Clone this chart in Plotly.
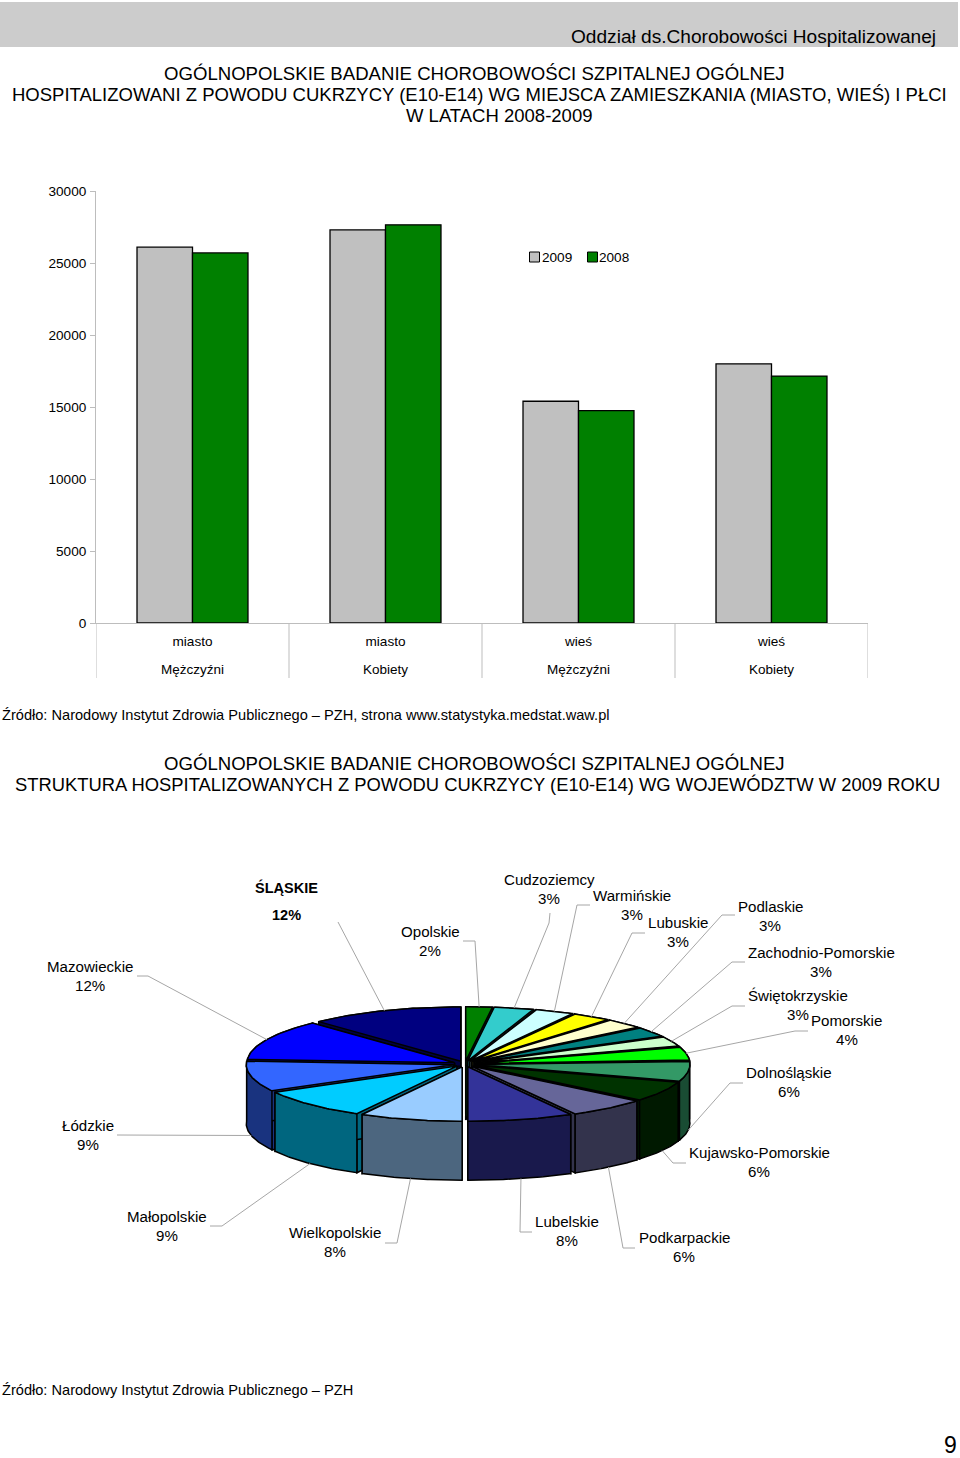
import numpy as np
import plotly.graph_objects as go

# ---------- data ----------
places = ["miasto", "miasto", "wieś", "wieś"]
sexes = ["Mężczyźni", "Kobiety", "Mężczyźni", "Kobiety"]
values_2009 = [26100, 27300, 15400, 18000]
values_2008 = [25700, 27650, 14750, 17150]
y_ticks = [0, 5000, 10000, 15000, 20000, 25000, 30000]

regions = ["Opolskie", "Cudzoziemcy", "Warmińskie", "Lubuskie", "Podlaskie",
           "Zachodnio-Pomorskie", "Świętokrzyskie", "Pomorskie", "Dolnośląskie",
           "Kujawsko-Pomorskie", "Podkarpackie", "Lubelskie", "Wielkopolskie",
           "Małopolskie", "Łódzkie", "Mazowieckie", "ŚLĄSKIE"]
shares = [2, 3, 3, 3, 3, 3, 3, 4, 6, 6, 6, 8, 8, 9, 9, 12, 12]
colors = ["#008000", "#33CCCC", "#CCFFFF", "#FFFF00", "#FFFFCC", "#008080", "#CCFFCC",
          "#00FF00", "#339966", "#003300", "#666699", "#333399", "#99CCFF", "#00CCFF",
          "#3366FF", "#0000FF", "#000080"]

# ---------- label placement (page pixels): x, y of name, y of percentage ----------
label_pos = [(430, 932, 951), (549, 880, 899), (632, 896, 915), (677.5, 923, 942),
             (770, 907, 926), (821, 953, 972), (797.5, 996, 1015), (846.5, 1021, 1040),
             (788.5, 1073, 1092), (759, 1153, 1172), (684, 1238, 1257), (567, 1222, 1241),
             (335, 1233, 1252), (167, 1217, 1236), (87.5, 1126, 1145), (90, 967, 986),
             (286, 888, 916)]
# label-side part of each leader line
leader_start = [[(463, 941), (475, 941)], [(550, 913), (549, 923)], [(590, 905), (577, 905)],
                [(645, 933), (632, 933)], [(735, 915), (722, 915)], [(745, 962), (732, 962)],
                [(745, 1006), (732, 1006)], [(808, 1031), (795, 1031)], [(743, 1083), (730, 1083)],
                [(686, 1163), (673, 1163)], [(635, 1248), (623, 1248)], [(532, 1232), (520, 1232)],
                [(385, 1243), (397, 1243)], [(210, 1226), (222, 1226)], [(117, 1135)],
                [(137, 976), (148, 976)], [(338, 922)]]

FONT = "Liberation Sans, Arial, sans-serif"
W, H = 960, 1458
CX, CY = 465.0, 1064.0
A_R, A_L, B = 213.5, 207.5, 54.3
EX, EY = 11.5, 3.0
DEPTH = 59.0
GRAY = "#BDBDBD"


def darker(hex_color):
    r, g, b = (int(hex_color[i:i + 2], 16) // 2 for i in (1, 3, 5))
    return f"#{r:02X}{g:02X}{b:02X}"


def rim(t, mid):
    dx, dy = EX * np.sin(mid), -EY * np.cos(mid)
    a = np.where(np.sin(t) >= 0, A_R, A_L)
    return CX + dx + a * np.sin(t), CY + dy - B * np.cos(t)


def poly(xs, ys, fill, lw=1.5):
    return go.Scatter(x=list(xs) + [xs[0]], y=list(ys) + [ys[0]], xaxis="x2", yaxis="y2",
                      mode="lines", fill="toself", fillcolor=fill,
                      line=dict(color="#000000", width=lw), hoverinfo="skip", showlegend=False)


fig = go.Figure()
bar_line = dict(color="#000000", width=1.3)
xs_idx = list(range(len(places)))
fig.add_trace(go.Bar(x=xs_idx, y=values_2009, name="2009", marker=dict(color="#C0C0C0", line=bar_line), showlegend=False))
fig.add_trace(go.Bar(x=xs_idx, y=values_2008, name="2008", marker=dict(color="#008000", line=bar_line), showlegend=False))

# ---------- exploded 3D pie ----------
edges = np.cumsum([0] + shares) / sum(shares) * 2 * np.pi
mids = (edges[:-1] + edges[1:]) / 2
order = sorted(range(len(shares)), key=lambda i: np.cos(mids[i]), reverse=True)

for i in order:
    t = np.linspace(edges[i], edges[i + 1], 40)
    m = mids[i]
    rx, ry = rim(t, m)
    tx, ty = CX + EX * np.sin(m), CY - EY * np.cos(m)
    side = darker(colors[i])
    # radial faces
    for k in (0, -1):
        fig.add_trace(poly([tx, rx[k], rx[k], tx], [ty, ry[k], ry[k] + DEPTH, ty + DEPTH], side))
    # outer wall
    fig.add_trace(poly(np.r_[rx, rx[::-1]], np.r_[ry, ry[::-1] + DEPTH], side))
    # top face
    fig.add_trace(poly(np.r_[tx, rx], np.r_[ty, ry], colors[i]))

# ---------- leader lines ----------
for i, start in enumerate(leader_start):
    m = mids[i]
    ex, ey = rim(np.array([m]), m)
    ex, ey = float(ex[0]), float(ey[0])
    if np.cos(m) < 0.0:
        ey += DEPTH
    fig.add_trace(go.Scatter(x=[p[0] for p in start] + [ex], y=[p[1] for p in start] + [ey],
                             xaxis="x2", yaxis="y2", mode="lines",
                             line=dict(color="#A6A6A6", width=1), hoverinfo="skip", showlegend=False))

ann = []


def text(x, y, s, size, xref="x2", bold=False, anchor="center", **kw):
    ann.append(dict(x=x, y=y, xref=xref, yref="y2", text=f"<b>{s}</b>" if bold else s, showarrow=False,
                    xanchor=anchor, yanchor="middle", align="center",
                    font=dict(family=FONT, size=size, color="#000000"), **kw))


for i, (name, share) in enumerate(zip(regions, shares)):
    lx, y1, y2 = label_pos[i]
    b = name.isupper()
    text(lx, y1 - 1, name, 14.5 if b else 15.1, bold=b)
    text(lx, y2 - 1, f"{share}%", 14.5 if b else 15.1, bold=b)

for i, s in enumerate(sexes):
    text(i, 669, s, 13.5, xref="x")

# titles and notes
text(474.5, 73, "OGÓLNOPOLSKIE BADANIE CHOROBOWOŚCI SZPITALNEJ OGÓLNEJ", 18.6)
text(479, 94, "HOSPITALIZOWANI Z POWODU CUKRZYCY (E10-E14) WG MIEJSCA ZAMIESZKANIA (MIASTO, WIEŚ) I PŁCI", 18.5)
text(498.5, 115, "W LATACH 2008-2009", 18.5)
text(474.5, 763, "OGÓLNOPOLSKIE BADANIE CHOROBOWOŚCI SZPITALNEJ OGÓLNEJ", 18.6)
text(477, 784, "STRUKTURA HOSPITALIZOWANYCH Z POWODU CUKRZYCY (E10-E14) WG WOJEWÓDZTW W 2009 ROKU", 18.4)
text(937.5, 36, "Oddział ds.Chorobowości Hospitalizowanej", 19.1, anchor="right")
text(0, 715, "Źródło: Narodowy Instytut Zdrowia Publicznego – PZH, strona www.statystyka.medstat.waw.pl", 14.6, anchor="left")
text(0, 1390, "Źródło: Narodowy Instytut Zdrowia Publicznego – PZH", 14.6, anchor="left")
text(959, 1444.5, "9", 23, anchor="right", height=18)

# legend
text(540, 257, "2009", 13.6, anchor="left")
text(597, 257, "2008", 13.6, anchor="left")

shapes = [dict(type="rect", xref="x2", yref="y2", x0=0, x1=958, y0=2, y1=47, fillcolor="#CCCCCC",
               line=dict(width=0), layer="below"),
          dict(type="rect", xref="x2", yref="y2", x0=529.5, x1=539.5, y0=252, y1=262, fillcolor="#C0C0C0",
               line=dict(color="#000000", width=1)),
          dict(type="rect", xref="x2", yref="y2", x0=587.5, x1=597.5, y0=252, y1=262, fillcolor="#008000",
               line=dict(color="#000000", width=1))]
for d in [-0.5, 0.5, 1.5, 2.5, 3.5]:
    shapes.append(dict(type="line", xref="x", yref="y2", x0=d, x1=d, y0=623, y1=678,
                       line=dict(color=GRAY, width=1)))

fig.update_layout(
    width=W, height=H, margin=dict(l=0, r=0, t=0, b=0, pad=0, autoexpand=False),
    paper_bgcolor="white", plot_bgcolor="rgba(0,0,0,0)",
    barmode="group", bargap=0.425, bargroupgap=0, showlegend=False,
    font=dict(family=FONT, size=14, color="#000000"), annotations=ann, shapes=shapes,
    xaxis=dict(domain=[96 / W, 868 / W], range=[-0.5, 3.5], tickvals=xs_idx, ticktext=places,
               showgrid=False, showline=True, linecolor=GRAY, linewidth=1, ticks="", ticklabelstandoff=6,
               zeroline=False, tickfont=dict(size=13.6, family=FONT), anchor="y"),
    yaxis=dict(domain=[1 - 623 / H, 1 - 191 / H], range=[0, 30000], tickvals=y_ticks, showgrid=False,
               showline=True, linecolor=GRAY, linewidth=1, ticks="outside", ticklen=5, tickcolor=GRAY,
               ticklabelstandoff=1, tickformat="d", zeroline=False, tickfont=dict(size=13.6, family=FONT), anchor="x"),
    xaxis2=dict(domain=[0, 1], range=[0, W], visible=False, anchor="y2"),
    yaxis2=dict(domain=[0, 1], range=[H, 0], visible=False, anchor="x2"),
)

fig.write_html("out.html", config={"displayModeBar": False},
               post_script="document.documentElement.style.overflow='hidden';document.body.style.margin='0';")
